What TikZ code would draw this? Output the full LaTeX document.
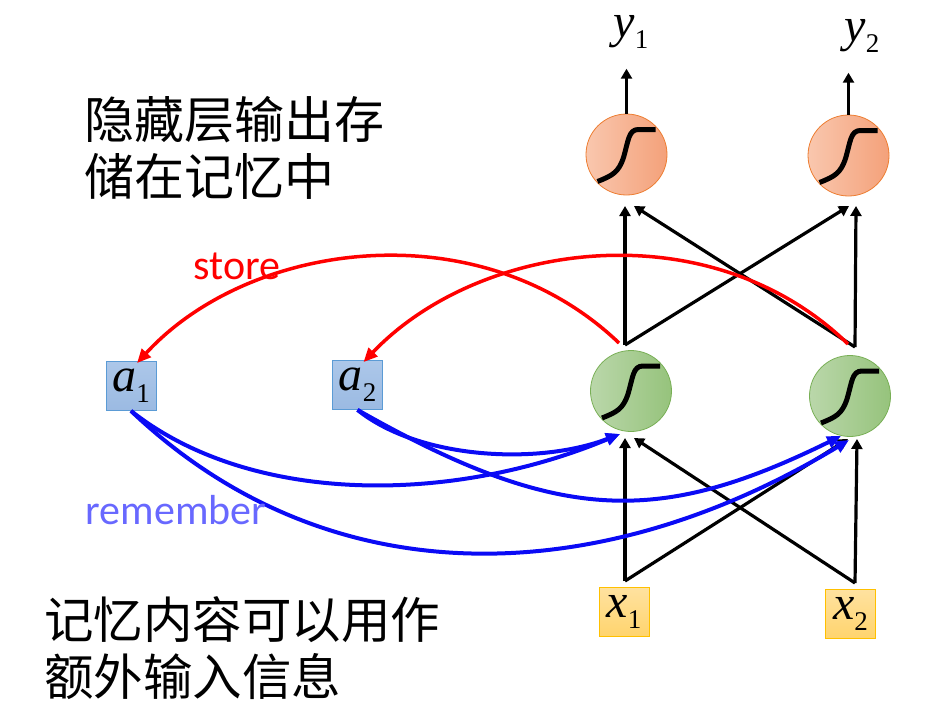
\documentclass[tikz,border=0pt]{standalone}
\usepackage{fontspec}
\setmainfont{Liberation Serif}
\newfontfamily\cjk{Noto Sans CJK SC}
\newfontfamily\calibri{Carlito}
\usetikzlibrary{arrows.meta}

\definecolor{outleft}{RGB}{249,199,174}
\definecolor{outright}{RGB}{244,161,122}
\definecolor{outedge}{RGB}{237,125,49}
\definecolor{hidleft}{RGB}{186,215,170}
\definecolor{hidright}{RGB}{150,195,124}
\definecolor{hidedge}{RGB}{120,175,85}
\definecolor{memtop}{RGB}{172,199,233}
\definecolor{membot}{RGB}{155,186,226}
\definecolor{memedge}{RGB}{91,155,213}
\definecolor{intop}{RGB}{255,226,160}
\definecolor{inbot}{RGB}{255,212,110}
\definecolor{inedge}{RGB}{255,192,0}
\definecolor{recallblue}{RGB}{10,10,245}
\definecolor{remtext}{RGB}{104,104,255}

% letter with a subscript, Times-like
\newcommand{\lbl}[2]{\fontsize{48}{48}\selectfont\itshape #1\raisebox{-11pt}{\fontsize{27}{27}\selectfont\upshape #2}}

\tikzset{
  neuron/.style={circle, minimum size=81pt, inner sep=0pt, line width=0.8pt},
  outcell/.style={neuron, draw=outedge, left color=outleft, right color=outright},
  hidcell/.style={neuron, draw=hidedge, left color=hidleft, right color=hidright},
  memcell/.style={rectangle, minimum width=50pt, minimum height=49pt, inner sep=0pt,
    line width=0.8pt, draw=memedge, top color=memtop, bottom color=membot},
  incell/.style={rectangle, minimum width=50pt, minimum height=49pt, inner sep=0pt,
    line width=0.8pt, draw=inedge, top color=intop, bottom color=inbot},
  wire/.style={line width=3.2pt, -{Triangle[length=10pt,width=11pt]}},
  storeline/.style={red, line width=3.5pt, -{Triangle[length=14pt,width=12pt]}},
  recall/.style={recallblue, line width=4pt, -{Triangle[length=14pt,width=12pt]}},
  sigmoid/.pic={
    \draw[line width=5pt] (-29,27) .. controls (-14,21) and (-8,18) .. (-3,3)
      .. controls (2,-14) and (2,-25) .. (12,-25) -- (29,-25);
  }
}

\begin{document}
\begin{tikzpicture}[x=1pt,y=-1pt]
\useasboundingbox (0,0) rectangle (936,704);

% neurons
\node[outcell] (h1) at (626.5,154.5) {};
\node[outcell] (h2) at (848.5,155.5) {};
\node[hidcell] (g1) at (631,391) {};
\node[hidcell] (g2) at (850,396) {};
\foreach \n in {h1,h2,g1,g2}
  \pic at (\n) {sigmoid};

% memory and inputs
\node[memcell] (a1) at (131,386) {\lbl{a}{1}};
\node[memcell] (a2) at (357.5,385) {\lbl{a}{2}};
\node[incell] (x1) at (624,611.5) {\lbl{x}{1}};
\node[incell] (x2) at (850.5,613.5) {\lbl{x}{2}};
\node[inner sep=0pt] (y1) at (631,32) {\lbl{y}{1}};
\node[inner sep=0pt] (y2) at (862,36) {\lbl{y}{2}};

% where the wires meet
\coordinate (g1o) at (625,345);
\coordinate (g2o) at (855,347);
\coordinate (x1o) at (625,581);
\coordinate (x2o) at (855,583);
\coordinate (h1a) at (625,206);
\coordinate (h1b) at (634,206);
\coordinate (h2a) at (849,206);
\coordinate (h2b) at (856,206);
\coordinate (g1a) at (625,438);
\coordinate (g1b) at (634,438);
\coordinate (g2a) at (848,439);
\coordinate (g2b) at (857,439);

% feed forward
\draw[wire, shorten >=20pt] (h1.north) -- (h1.north |- y1.south);
\draw[wire, shorten >=20pt] (h2.north) -- (h2.north |- y2.south);
\draw[wire] (g1o) -- (h1a);
\draw[wire] (g1o) -- (h2a);
\draw[wire] (g2o) -- (h2b);
\draw[wire] (g2o) -- (h1b);
\draw[wire] (x1o) -- (g1a);
\draw[wire] (x1o) -- (g2a);
\draw[wire] (x2o) -- (g2b);
\draw[wire] (x2o) -- (g1b);

% store
\draw[storeline] ([xshift=-6pt,yshift=2pt]g1o) .. controls (480,210) and (250,240) .. ([xshift=6pt,yshift=-2pt]a1.north);
\draw[storeline] ([xshift=-7pt,yshift=3pt]g2o) .. controls (710,210) and (480,240) .. ([xshift=6pt,yshift=-2pt]a2.north);
\node[red, font=\calibri\fontsize{42}{42}\selectfont] (store) at (237,266) {store};

% remember
\coordinate (g1r) at (620,434);
\coordinate (g2r) at (841,436);
\coordinate (g2s) at (849,440);
\draw[recall] (a1.south) .. controls (250,505) and (450,505) .. (g1r);
\draw[recall] (a1.south) .. controls (330,600) and (600,590) .. (g2s);
\draw[recall] (a2.south) .. controls (420,460) and (540,465) .. (g1r);
\draw[recall] (a2.south) .. controls (560,525) and (660,525) .. (g2r);
\node[remtext, font=\calibri\fontsize{42}{42}\selectfont] (remember) at (176,510) {remember};

% notes
\node[anchor=north west, align=left, inner sep=0pt, font=\cjk\fontsize{50}{57}\selectfont] (note1) at (84,96) {隐藏层输出存\\储在记忆中};
\node[anchor=north west, align=left, inner sep=0pt, font=\cjk\fontsize{49.5}{57}\selectfont] (note2) at (44,596) {记忆内容可以用作\\额外输入信息};
\end{tikzpicture}
\end{document}
